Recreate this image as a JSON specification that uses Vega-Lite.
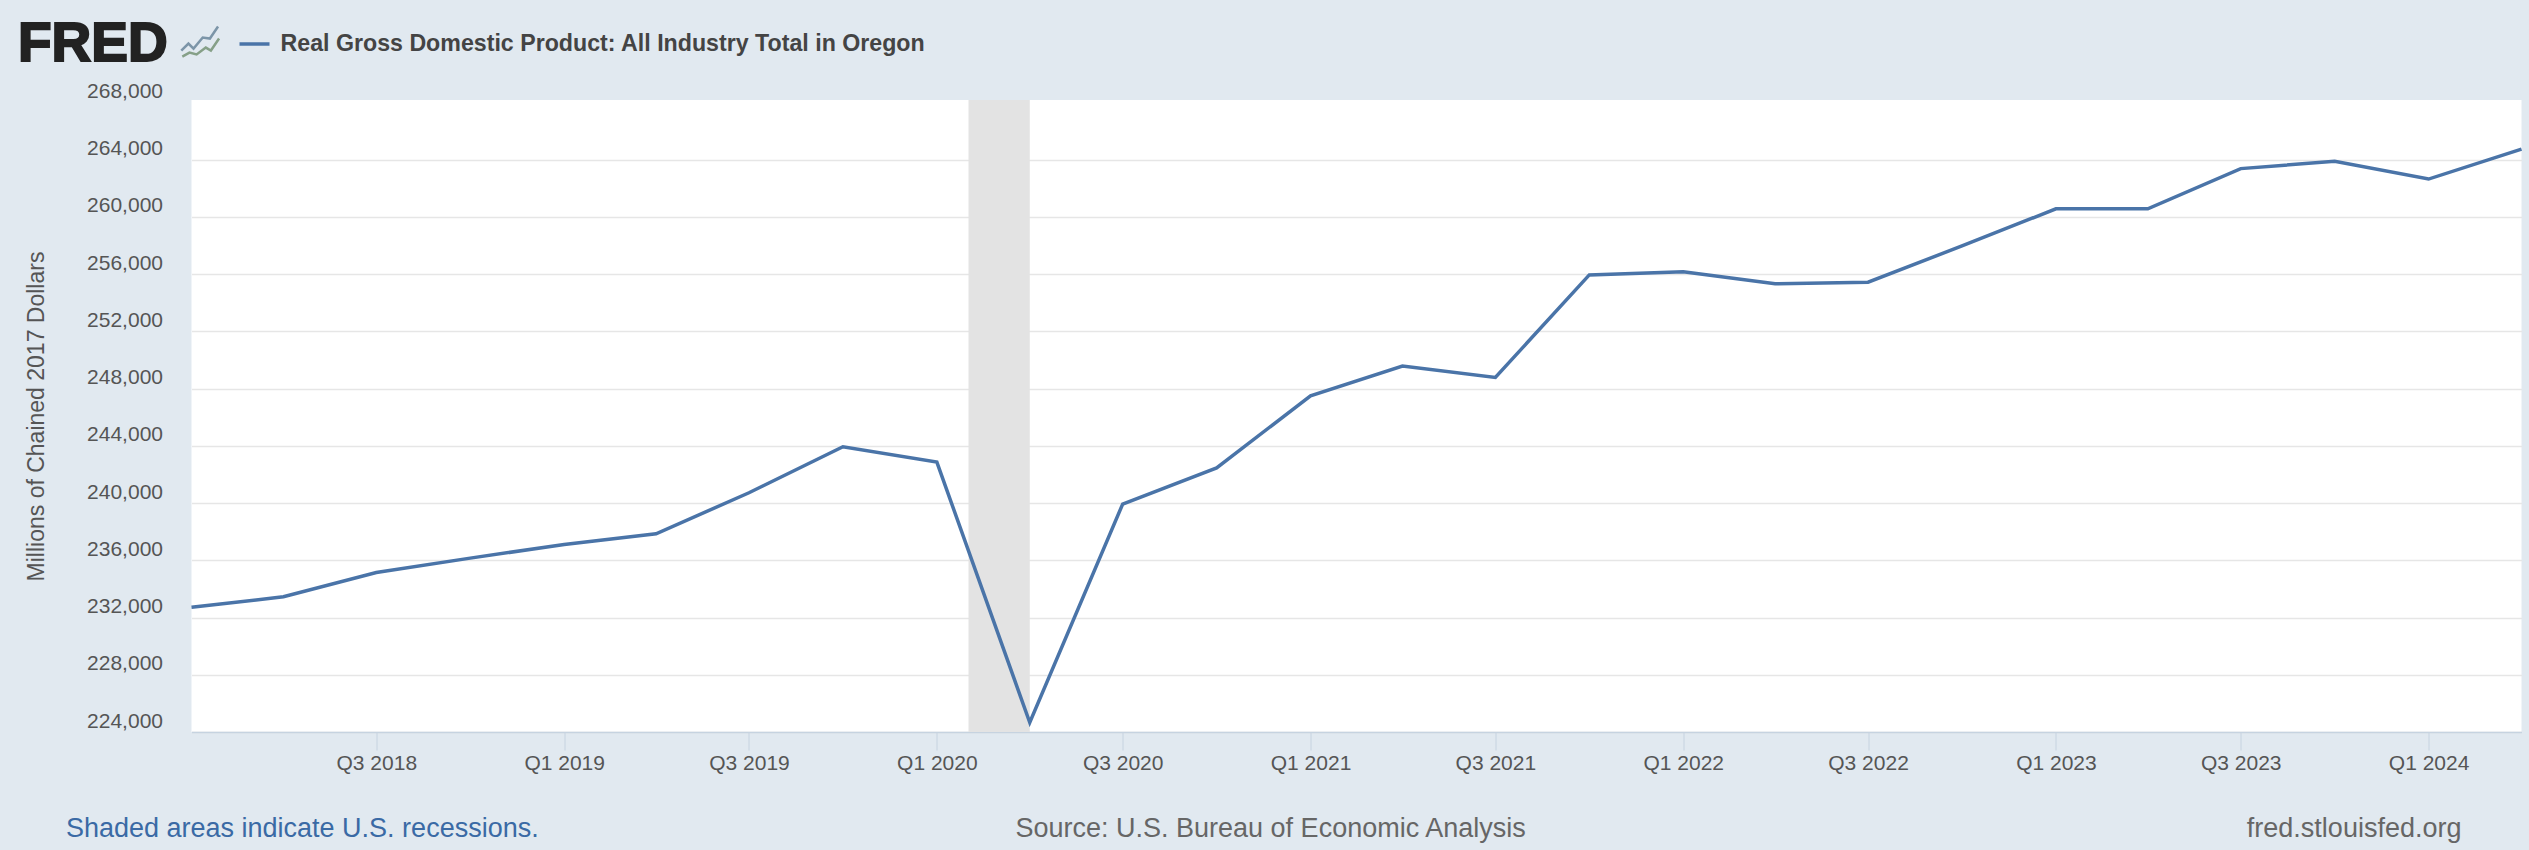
{"$schema":"https://vega.github.io/schema/vega-lite/v6.json","width":2330,"height":632,"autosize":"none","padding":{"left":191.5,"top":100,"right":7.5,"bottom":118},"background":"#E1E9F0","view":{"fill":"#ffffff","stroke":null},"datasets":{"gdp":[{"quarter":"2018-01-01T00:00:00","gdp":232710,"series":"Real Gross Domestic Product: All Industry Total in Oregon"},{"quarter":"2018-04-01T00:00:00","gdp":233450,"series":"Real Gross Domestic Product: All Industry Total in Oregon"},{"quarter":"2018-07-01T00:00:00","gdp":235140,"series":"Real Gross Domestic Product: All Industry Total in Oregon"},{"quarter":"2018-10-01T00:00:00","gdp":236150,"series":"Real Gross Domestic Product: All Industry Total in Oregon"},{"quarter":"2019-01-01T00:00:00","gdp":237110,"series":"Real Gross Domestic Product: All Industry Total in Oregon"},{"quarter":"2019-04-01T00:00:00","gdp":237850,"series":"Real Gross Domestic Product: All Industry Total in Oregon"},{"quarter":"2019-07-01T00:00:00","gdp":240720,"series":"Real Gross Domestic Product: All Industry Total in Oregon"},{"quarter":"2019-10-01T00:00:00","gdp":243930,"series":"Real Gross Domestic Product: All Industry Total in Oregon"},{"quarter":"2020-01-01T00:00:00","gdp":242860,"series":"Real Gross Domestic Product: All Industry Total in Oregon"},{"quarter":"2020-04-01T00:00:00","gdp":224660,"series":"Real Gross Domestic Product: All Industry Total in Oregon"},{"quarter":"2020-07-01T00:00:00","gdp":239930,"series":"Real Gross Domestic Product: All Industry Total in Oregon"},{"quarter":"2020-10-01T00:00:00","gdp":242460,"series":"Real Gross Domestic Product: All Industry Total in Oregon"},{"quarter":"2021-01-01T00:00:00","gdp":247490,"series":"Real Gross Domestic Product: All Industry Total in Oregon"},{"quarter":"2021-04-01T00:00:00","gdp":249570,"series":"Real Gross Domestic Product: All Industry Total in Oregon"},{"quarter":"2021-07-01T00:00:00","gdp":248780,"series":"Real Gross Domestic Product: All Industry Total in Oregon"},{"quarter":"2021-10-01T00:00:00","gdp":255940,"series":"Real Gross Domestic Product: All Industry Total in Oregon"},{"quarter":"2022-01-01T00:00:00","gdp":256160,"series":"Real Gross Domestic Product: All Industry Total in Oregon"},{"quarter":"2022-04-01T00:00:00","gdp":255320,"series":"Real Gross Domestic Product: All Industry Total in Oregon"},{"quarter":"2022-07-01T00:00:00","gdp":255430,"series":"Real Gross Domestic Product: All Industry Total in Oregon"},{"quarter":"2022-10-01T00:00:00","gdp":257970,"series":"Real Gross Domestic Product: All Industry Total in Oregon"},{"quarter":"2023-01-01T00:00:00","gdp":260560,"series":"Real Gross Domestic Product: All Industry Total in Oregon"},{"quarter":"2023-04-01T00:00:00","gdp":260560,"series":"Real Gross Domestic Product: All Industry Total in Oregon"},{"quarter":"2023-07-01T00:00:00","gdp":263370,"series":"Real Gross Domestic Product: All Industry Total in Oregon"},{"quarter":"2023-10-01T00:00:00","gdp":263880,"series":"Real Gross Domestic Product: All Industry Total in Oregon"},{"quarter":"2024-01-01T00:00:00","gdp":262640,"series":"Real Gross Domestic Product: All Industry Total in Oregon"},{"quarter":"2024-04-01T00:00:00","gdp":264730,"series":"Real Gross Domestic Product: All Industry Total in Oregon"}],"recession":[{"start":"2020-02-01T00:00:00","end":"2020-04-01T00:00:00"}],"notes":[{"label":"FRED","quarter":"2017-07-15T00:00:00","gdp":272090,"kind":"logo"},{"label":"Shaded areas indicate U.S. recessions.","quarter":"2017-08-31T00:00:00","gdp":217200,"kind":"link"},{"label":"Source: U.S. Bureau of Economic Analysis","quarter":"2020-03-18T00:00:00","gdp":217200,"kind":"source"},{"label":"fred.stlouisfed.org","quarter":"2023-07-07T00:00:00","gdp":217200,"kind":"source"}],"logo":[{"quarter":"2017-12-22T00:00:00","gdp":271620,"strand":"upper"},{"quarter":"2017-12-29T00:00:00","gdp":272110,"strand":"upper"},{"quarter":"2018-01-03T00:00:00","gdp":271760,"strand":"upper"},{"quarter":"2018-01-12T00:00:00","gdp":272530,"strand":"upper"},{"quarter":"2018-01-19T00:00:00","gdp":272460,"strand":"upper"},{"quarter":"2018-01-27T00:00:00","gdp":273300,"strand":"upper"},{"quarter":"2017-12-23T00:00:00","gdp":271200,"strand":"lower"},{"quarter":"2017-12-30T00:00:00","gdp":271480,"strand":"lower"},{"quarter":"2018-01-06T00:00:00","gdp":271350,"strand":"lower"},{"quarter":"2018-01-15T00:00:00","gdp":271830,"strand":"lower"},{"quarter":"2018-01-20T00:00:00","gdp":271620,"strand":"lower"},{"quarter":"2018-01-28T00:00:00","gdp":272460,"strand":"lower"}]},"layer":[{"data":{"name":"recession"},"mark":{"type":"rect","fill":"#E3E3E3"},"encoding":{"x":{"field":"start","type":"temporal","scale":{"domain":["2018-01-01T00:00:00","2024-04-01T00:00:00"],"nice":false},"axis":{"title":null,"values":[{"year":2018,"month":7,"date":1},{"year":2019,"month":1,"date":1},{"year":2019,"month":7,"date":1},{"year":2020,"month":1,"date":1},{"year":2020,"month":7,"date":1},{"year":2021,"month":1,"date":1},{"year":2021,"month":7,"date":1},{"year":2022,"month":1,"date":1},{"year":2022,"month":7,"date":1},{"year":2023,"month":1,"date":1},{"year":2023,"month":7,"date":1},{"year":2024,"month":1,"date":1}],"format":"Q%q %Y","grid":false,"tickSize":18,"tickColor":"#C6D3E0","domainColor":"#C6D3E0","domainWidth":1.5,"labelFont":"Liberation Sans","labelFontSize":21,"labelColor":"#555555","labelPadding":2,"labelFlush":false,"labelOverlap":false}},"x2":{"field":"end"},"y":{"datum":224000,"type":"quantitative","scale":{"domain":[224000,268165],"nice":false,"zero":false},"axis":{"title":"Millions of Chained 2017 Dollars","values":[224000,228000,232000,236000,240000,244000,248000,252000,256000,260000,264000,268000],"format":",d","formatType":"number","grid":true,"gridColor":"#E6E6E6","gridWidth":1.5,"gridOpacity":{"condition":{"test":"datum.value === 268000","value":0},"value":1},"domain":false,"ticks":false,"labelFont":"Liberation Sans","labelFontSize":21,"labelColor":"#555555","labelPadding":29,"labelOffset":-11,"titleFont":"Liberation Sans","titleFontSize":23,"titleFontWeight":"normal","titleColor":"#555555","titleX":-143,"titleY":316}},"y2":{"datum":268165}}},{"data":{"name":"gdp"},"mark":{"type":"line","strokeWidth":3.5,"interpolate":"linear"},"encoding":{"x":{"field":"quarter","type":"temporal"},"y":{"field":"gdp","type":"quantitative"},"color":{"field":"series","type":"nominal","scale":{"range":["#4A74A8"]},"legend":{"title":null,"orient":"none","legendX":46,"legendY":-73,"symbolType":"stroke","symbolSize":900,"symbolStrokeWidth":3.5,"labelFont":"Liberation Sans","labelFontSize":23.2,"labelFontWeight":"bold","labelColor":"#444444","labelOffset":9,"labelLimit":900}}}},{"data":{"name":"logo"},"transform":[{"filter":"datum.strand==='upper'"}],"mark":{"type":"line","strokeWidth":2.5,"color":"#7C95A8","clip":false},"encoding":{"x":{"field":"quarter","type":"temporal"},"y":{"field":"gdp","type":"quantitative"}}},{"data":{"name":"logo"},"transform":[{"filter":"datum.strand==='lower'"}],"mark":{"type":"line","strokeWidth":2.5,"color":"#86A088","clip":false},"encoding":{"x":{"field":"quarter","type":"temporal"},"y":{"field":"gdp","type":"quantitative"}}},{"data":{"name":"notes"},"transform":[{"filter":"datum.kind==='logo'"}],"mark":{"type":"text","align":"left","baseline":"middle","font":"Liberation Sans","fontWeight":"bold","fontSize":55,"color":"#222222","stroke":"#222222","strokeWidth":2,"clip":false},"encoding":{"x":{"field":"quarter","type":"temporal"},"y":{"field":"gdp","type":"quantitative"},"text":{"field":"label"}}},{"data":{"name":"notes"},"transform":[{"filter":"datum.kind==='link'"}],"mark":{"type":"text","align":"left","baseline":"middle","font":"Liberation Sans","fontSize":27,"color":"#3A6AA5","clip":false},"encoding":{"x":{"field":"quarter","type":"temporal"},"y":{"field":"gdp","type":"quantitative"},"text":{"field":"label"}}},{"data":{"name":"notes"},"transform":[{"filter":"datum.kind==='source'"}],"mark":{"type":"text","align":"left","baseline":"middle","font":"Liberation Sans","fontSize":27,"color":"#666666","clip":false},"encoding":{"x":{"field":"quarter","type":"temporal"},"y":{"field":"gdp","type":"quantitative"},"text":{"field":"label"}}}]}
